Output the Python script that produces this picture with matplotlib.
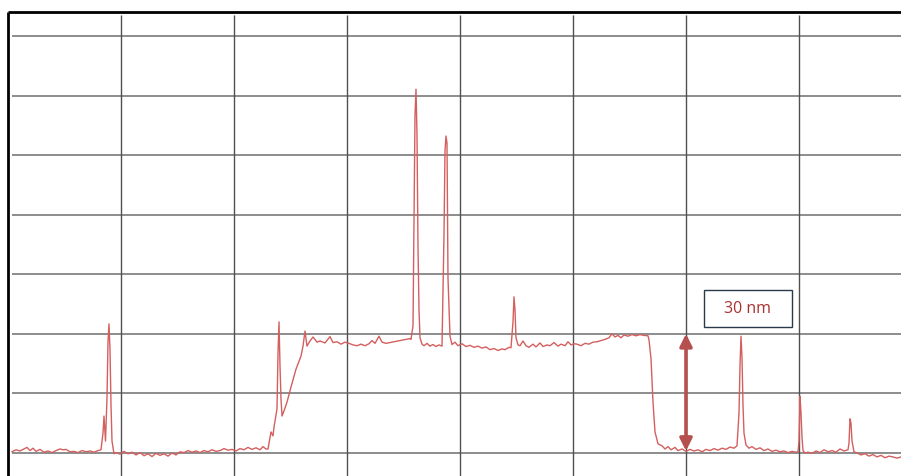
import numpy as np
import matplotlib
matplotlib.use("Agg")
import matplotlib.pyplot as plt
from matplotlib.patches import Rectangle

# profile trace: sample index vs height (nm)
pos = [4, 8, 12, 16, 19, 22, 25, 28, 32, 36, 40, 44, 48, 52, 55, 58, 62, 66, 70, 74,
       78, 82, 86, 90, 93, 95, 96, 97.5, 99, 100, 101, 102, 103, 104, 106,
       108, 112, 116, 120, 124, 128, 132, 136, 140, 144, 148, 152, 156, 160, 164,
       168, 172, 176, 180, 184, 188, 192, 196, 200, 204, 208, 212, 216, 220, 224,
       228, 232, 236, 240, 244, 248, 252, 255, 258,
       260, 263, 265, 266, 269, 270, 271, 272, 273, 274, 276, 279, 283, 288, 293,
       295, 297, 299, 302, 305, 309, 312, 317,
       322, 325, 329, 333, 337, 341, 345, 349, 353, 357, 361, 364, 367, 371, 374,
       378, 382, 386, 390, 394, 398, 402,
       403, 405, 406, 407, 408, 409, 410, 411, 412, 414,
       416, 419, 422, 425, 428, 431, 434,
       436, 437, 438, 439, 440, 442, 444,
       447, 450, 454, 458, 462, 466, 470, 474, 478, 482, 486, 490, 494, 497, 501,
       503, 505, 506, 507, 508, 510,
       512, 515, 518, 521, 525, 528, 532, 535, 539, 542, 546, 550, 553, 557, 560,
       563, 566, 569, 573, 577, 581, 585, 589, 593, 597, 601, 604, 607, 610, 613,
       616, 620, 624, 628, 632, 636, 640,
       641, 643, 645, 647, 650, 654, 657, 660,
       663, 667, 670, 674, 678, 682, 686, 690, 694, 698, 702, 706, 710, 714, 718,
       722, 726, 729, 731, 732, 733, 734, 735, 736, 738, 741,
       744, 748, 752, 756, 760, 764, 768, 772, 776, 780, 784, 788, 790,
       791, 792, 793, 794, 795, 797,
       800, 804, 808, 812, 816, 820, 824, 828, 832, 836, 840,
       841, 842, 843, 844, 846,
       849, 853, 857, 861, 865, 869, 873, 877, 881, 885, 889, 893, 896]
height = [0.3, 0.8, 0.5, 1.0, 1.4, 0.6, 1.2, 0.4, 0.9, 0.2, 0.5, 0.1, 0.6, 1.0, 0.8, 0.9, 0.3, 0.4, 0.1, 0.6,
          0.3, 0.5, 0.2, 0.6, 0.8, 5.0, 9.3, 3.0, 14.0, 28.0, 32.5, 26.0, 12.0, 3.0, -0.2,
          0.1, -0.3, 0.4, -0.2, 0.2, -0.5, 0.1, -0.7, -0.2, -0.9, -0.1, -0.6, -0.2, -0.8, 0.0,
          -0.5, 0.3, 0.1, 0.6, 0.2, 0.5, 0.1, 0.6, 0.3, 0.8, 0.4, 0.6, 1.1, 0.7, 0.9,
          0.5, 1.1, 0.8, 1.4, 0.9, 1.3, 0.8, 1.6, 1.0,
          1.0, 5.3, 4.3, 6.5, 11.1, 25.0, 33.0, 22.0, 13.6, 9.3, 10.6, 12.8, 16.6, 21.1, 24.4,
          26.9, 30.7, 26.9, 28.2, 29.2, 27.9, 28.2, 27.7,
          29.3, 27.8, 28.0, 27.4, 27.9, 27.6, 27.2, 27.0, 27.4, 27.0, 27.5, 28.3, 27.6, 29.4, 27.9,
          27.6, 27.8, 28.0, 28.2, 28.4, 28.6, 28.8,
          28.6, 32.0, 60.0, 85.0, 91.6, 80.0, 52.0, 36.0, 29.0, 27.4,
          27.0, 27.6, 26.9, 27.3, 26.8, 27.2, 26.9,
          55.0, 76.0, 79.8, 78.0, 44.0, 29.4, 27.3,
          27.9, 27.0, 27.5, 26.8, 27.1, 26.6, 26.9, 26.4, 26.7, 26.0, 26.3, 25.8, 26.2, 26.0, 26.6,
          26.5, 33.0, 39.3, 36.0, 29.0, 27.2,
          27.0, 28.2, 27.0, 26.6, 27.4, 26.7, 27.7, 26.8, 27.2, 27.0, 27.8, 26.9, 27.4, 27.0, 28.0,
          27.2, 27.5, 27.4, 27.0, 27.6, 27.4, 27.9, 28.0, 28.3, 28.6, 29.0, 30.0, 29.2, 29.6, 29.0,
          29.7, 29.4, 29.8, 29.5, 29.8, 29.6, 29.5,
          28.5, 23.7, 12.8, 5.3, 2.3, 1.8, 1.0, 1.6,
          0.8, 1.4, 0.6, 1.0, 0.4, 0.9, 0.5, 0.8, 0.3, 0.9, 0.6, 1.1, 0.7, 1.2, 0.9,
          1.5, 1.2, 1.8, 10.0, 22.0, 29.4, 24.0, 12.0, 5.0, 2.0, 1.2,
          1.6, 0.9, 1.3, 0.6, 1.0, 0.4, 0.7, 0.3, 0.5, 0.1, 0.4, 0.2, 0.3,
          3.0, 14.3, 10.0, 4.0, 0.6, 0.0,
          0.2, -0.1, 0.5, 0.1, 0.8, 0.3, 0.6, 0.2, 1.0, 0.5, 0.8,
          2.5, 8.6, 7.5, 3.0, 0.3,
          0.0, -0.5, -0.2, -0.8, -0.4, -1.0, -0.6, -1.2, -0.8, -1.0, -1.3, -1.0, -1.2]

step_height = 30          # nm, marked by the arrow
step_pos = 678
label = "30 nm"

grid_dx = 113             # samples per grid division
grid_dy = 15              # nm per grid division

fig = plt.figure(figsize=(9.01, 4.77), dpi=100)
ax = fig.add_axes([0, 0, 1, 1])
ax.set_xlim(-8, 893)
ax.set_ylim(-5.8, 114.3)
ax.axis("off")

# grid (excel-like, inset a little from the frame)
for k in range(8):
    ax.hlines(k * grid_dy, 4, 893, color="#8c8c8c", lw=1.4, zorder=1)
for k in range(1, 8):
    ax.vlines(k * grid_dx, -5.8, 110.2, color="#505050", lw=1.0, zorder=1)

# frame (left and top only are in view)
ax.vlines(0, -5.8, 111.0, color="black", lw=2.0, zorder=2)
ax.hlines(111.0, 0, 893, color="black", lw=2.0, zorder=2)

ax.plot(pos, height, color="#d45f5f", lw=1.0, zorder=3)

ax.annotate("", xy=(step_pos, 0.5), xytext=(step_pos, step_height),
            arrowprops=dict(arrowstyle="<|-|>", color="#b5504e", lw=2.6,
                            mutation_scale=18, shrinkA=0, shrinkB=0), zorder=4)

ax.add_patch(Rectangle((696, 31.7), 88, 9.3, fill=False, edgecolor="#2b3a4a",
                       lw=1.0, zorder=4))
ax.text(740, 36.4, label, ha="center", va="center", color="#a83230",
        fontsize=11.5, family="Open Sans", zorder=5)

fig.savefig("out.png", dpi=100)
